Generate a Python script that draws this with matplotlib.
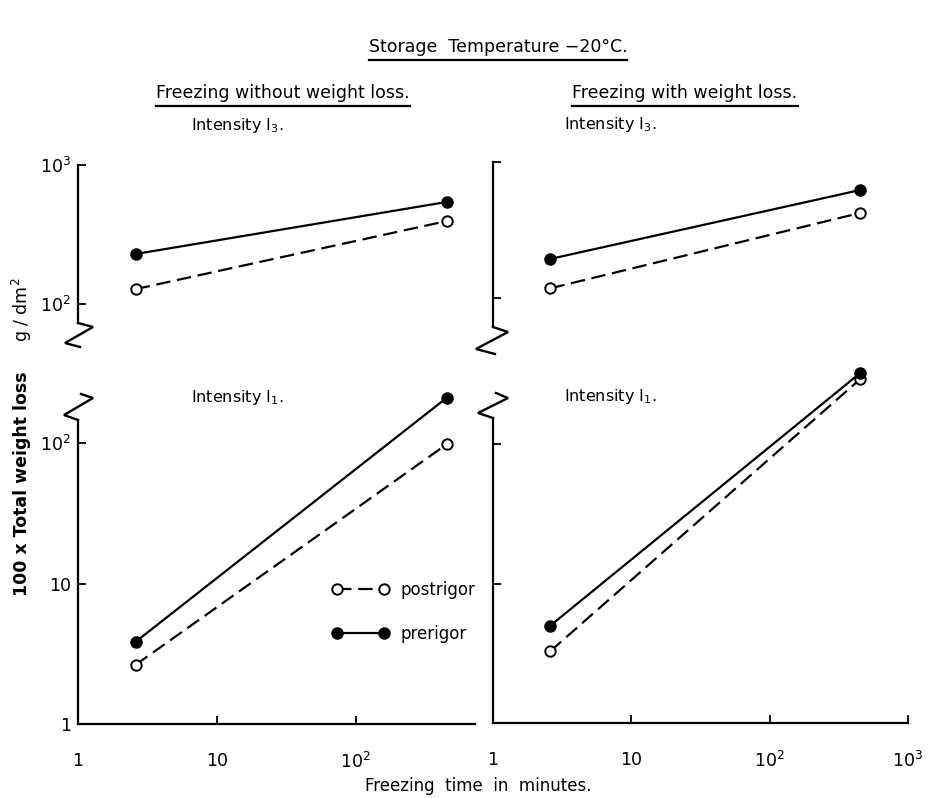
import numpy as np
import matplotlib
matplotlib.use("Agg")
import matplotlib.pyplot as plt
from matplotlib.lines import Line2D

# freezing times (minutes) and 100 x total weight loss (g/dm2)
times = [2.6, 450]

tl_pre = [229, 542]     # without weight loss, intensity I3
tl_post = [128, 395]
bl_pre = [3.85, 210]    # without weight loss, intensity I1
bl_post = [2.64, 98]
tr_pre = [194, 622]     # with weight loss, intensity I3
tr_post = [118, 422]
br_pre = [5.0, 323]     # with weight loss, intensity I1
br_post = [3.28, 292]

W, H = 945, 798
plt.rcParams['font.family'] = ['DejaVu Sans']
fig = plt.figure(figsize=(W / 100, H / 100), dpi=100)


def px_axes(left, right, top, bottom):
    # axes box given in pixel coords of the picture (y down)
    return fig.add_axes([left / W, 1 - bottom / H, (right - left) / W, (bottom - top) / H])


ax_tl = px_axes(78, 475, 165, 323)
ax_bl = px_axes(78, 475, 420, 724)
ax_tr = px_axes(493, 908, 162, 327)
ax_br = px_axes(493, 908, 418, 723)

ax_tl.set_ylim(73, 1000)
ax_bl.set_ylim(1, 146)
ax_tr.set_ylim(61.3, 1000)
ax_br.set_ylim(1, 154)
for ax in (ax_tl, ax_bl):
    ax.set_xlim(1, 720)
for ax in (ax_tr, ax_br):
    ax.set_xlim(1, 1000)

dash = (6.5, 3)
panels = [(ax_tl, tl_pre, tl_post), (ax_bl, bl_pre, bl_post),
          (ax_tr, tr_pre, tr_post), (ax_br, br_pre, br_post)]
for ax, pre, post in panels:
    ax.set_xscale('log')
    ax.set_yscale('log')
    ax.plot(times, post, color='black', lw=1.6, dashes=dash, marker='o', ms=7.5,
            mfc='white', mec='black', mew=1.4, label='postrigor', clip_on=False)
    ax.plot(times, pre, color='black', lw=1.6, marker='o', ms=8,
            mfc='black', mec='black', label='prerigor', clip_on=False)
    for s in ('top', 'right'):
        ax.spines[s].set_visible(False)
    ax.spines['left'].set_linewidth(1.6)
    ax.spines['bottom'].set_linewidth(1.6)
    ax.minorticks_off()
    ax.tick_params(direction='in', length=6, width=1.3, labelsize=12.5)
    ax.tick_params(axis='x', pad=20)
    ax.tick_params(axis='y', pad=5)

# top panels: no x axis
for ax in (ax_tl, ax_tr):
    ax.spines['bottom'].set_visible(False)
    ax.set_xticks([])
ax_tl.set_yticks([100, 1000], [r'$10^2$', r'$10^3$'])
ax_tr.set_yticks([100, 1000], ['', ''])

ax_bl.set_yticks([1, 10, 100], ['1', '10', r'$10^2$'])
ax_br.set_yticks([1, 10, 100], ['', '', ''])
ax_bl.set_xticks([1, 10, 100], ['1', '10', r'$10^2$'])
ax_br.set_xticks([1, 10, 100, 1000], ['1', '10', r'$10^2$', r'$10^3$'])

# panel captions
ax_tl.text(0.285, 1.25, r'Intensity I$_3$.', transform=ax_tl.transAxes, fontsize=11.5, va='center')
ax_tr.text(0.17, 1.23, r'Intensity I$_3$.', transform=ax_tr.transAxes, fontsize=11.5, va='center')
ax_bl.text(0.285, 1.075, r'Intensity I$_1$.', transform=ax_bl.transAxes, fontsize=11.5, va='center')
ax_br.text(0.17, 1.07, r'Intensity I$_1$.', transform=ax_br.transAxes, fontsize=11.5, va='center')

leg = ax_bl.legend(loc='upper left', bbox_to_anchor=(0.64, 0.47), frameon=False,
                   handlelength=3.4, handletextpad=0.7, labelspacing=1.55,
                   borderpad=0, borderaxespad=0, fontsize=12, numpoints=2)

# headings
t_main = fig.text(498 / W, 1 - 47 / H, 'Storage  Temperature \u221220\u00b0C.', ha='center',
                  va='center', fontsize=12.5)
t_left = fig.text(283 / W, 1 - 93 / H, 'Freezing without weight loss.', ha='center',
                  va='center', fontsize=12.5)
t_right = fig.text(685 / W, 1 - 93 / H, 'Freezing with weight loss.', ha='center',
                   va='center', fontsize=12.5)
fig.text(478 / W, 1 - 786 / H, 'Freezing  time  in  minutes.', ha='center', va='center',
         fontsize=12)
fig.text(22 / W, 1 - 484 / H, '100 x Total weight loss', rotation=90, ha='center',
         va='center', fontsize=12.5, fontweight='bold')
fig.text(22 / W, 1 - 310 / H, r'g / dm$^2$', rotation=90, ha='center', va='center',
         fontsize=12.5)

# underline the headings
fig.canvas.draw()
r = fig.canvas.get_renderer()
for t in (t_main, t_left, t_right):
    bb = t.get_window_extent(r)
    y = (bb.y0 - 4) / H
    fig.add_artist(Line2D([bb.x0 / W, bb.x1 / W], [y, y], transform=fig.transFigure,
                          color='black', lw=1.6))


# axis break zigzags, offsets in pixels (x right, y down) from the spine end
def zigzag(ax, at_top, pts):
    pos = ax.get_position()
    x0 = pos.x0 * W
    y0 = (1 - pos.y1) * H if at_top else (1 - pos.y0) * H
    xs = [(x0 + dx) / W for dx, dy in pts]
    ys = [1 - (y0 + dy) / H for dx, dy in pts]
    fig.add_artist(Line2D(xs, ys, transform=fig.transFigure, color='black', lw=1.7,
                          solid_joinstyle='miter'))


zigzag(ax_tl, False, [(0, 0), (15, 4), (-13, 20), (2, 24)])
zigzag(ax_tr, False, [(0, 0), (15, 5), (-17, 22), (2, 27)])
zigzag(ax_bl, True, [(0, 0), (-14, -5), (15, -22), (3, -26)])
zigzag(ax_br, True, [(0, 0), (-15, -5), (15, -20), (3, -25)])

fig.savefig('out.png', dpi=100, facecolor='white')
